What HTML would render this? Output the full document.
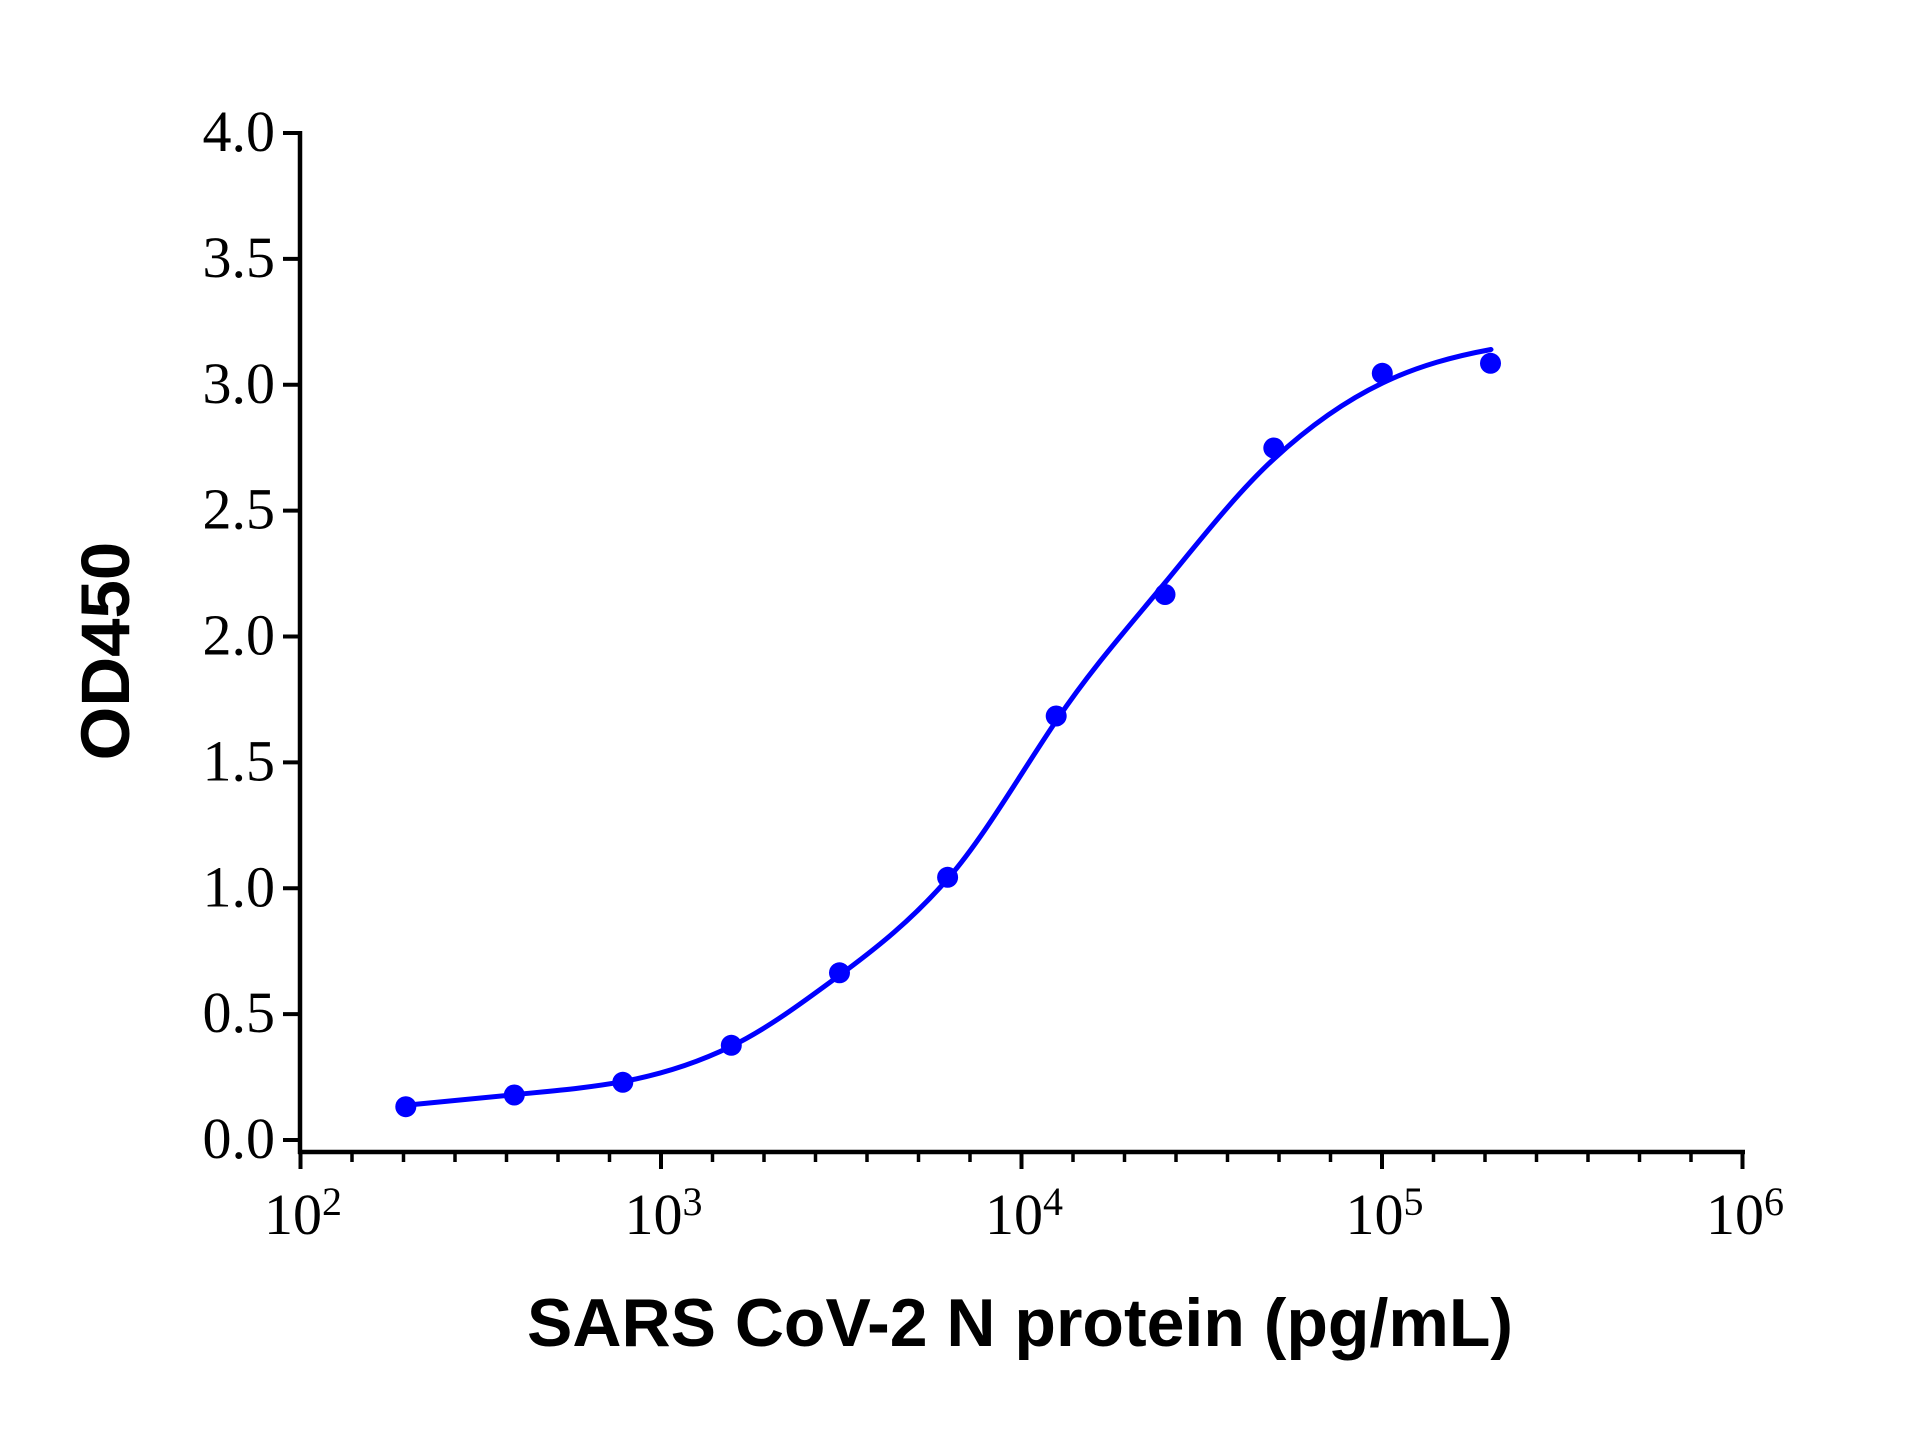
<!DOCTYPE html>
<html>
<head>
<meta charset="utf-8">
<style>
  html, body { margin: 0; padding: 0; background: #ffffff; }
  svg { display: block; }
</style>
</head>
<body>
<svg width="1920" height="1440" viewBox="0 0 1920 1440" xmlns="http://www.w3.org/2000/svg">
  <rect x="0" y="0" width="1920" height="1440" fill="#ffffff"/>

  <!-- Y axis -->
  <line x1="300" y1="131" x2="300" y2="1154" stroke="#000" stroke-width="4.5"/>
  <!-- Y ticks -->
  <g stroke="#000" stroke-width="4">
    <line x1="283" y1="1140" x2="300" y2="1140"/>
    <line x1="283" y1="1014.1" x2="300" y2="1014.1"/>
    <line x1="283" y1="888.3" x2="300" y2="888.3"/>
    <line x1="283" y1="762.4" x2="300" y2="762.4"/>
    <line x1="283" y1="636.5" x2="300" y2="636.5"/>
    <line x1="283" y1="510.6" x2="300" y2="510.6"/>
    <line x1="283" y1="384.8" x2="300" y2="384.8"/>
    <line x1="283" y1="258.9" x2="300" y2="258.9"/>
    <line x1="283" y1="133" x2="300" y2="133"/>
  </g>
  <!-- Y tick labels -->
  <g font-family="'Liberation Serif', 'Times New Roman', serif" font-size="58" fill="#000" text-anchor="end">
    <text x="275" y="1158">0.0</text>
    <text x="275" y="1032.1">0.5</text>
    <text x="275" y="906.3">1.0</text>
    <text x="275" y="780.4">1.5</text>
    <text x="275" y="654.5">2.0</text>
    <text x="275" y="528.6">2.5</text>
    <text x="275" y="402.8">3.0</text>
    <text x="275" y="276.9">3.5</text>
    <text x="275" y="151">4.0</text>
  </g>

  <!-- X axis -->
  <line x1="298" y1="1152" x2="1745" y2="1152" stroke="#000" stroke-width="4.5"/>
  <!-- major ticks -->
  <g stroke="#000" stroke-width="4">
    <line x1="300.5" y1="1152" x2="300.5" y2="1169"/>
    <line x1="661" y1="1152" x2="661" y2="1169"/>
    <line x1="1021.5" y1="1152" x2="1021.5" y2="1169"/>
    <line x1="1382" y1="1152" x2="1382" y2="1169"/>
    <line x1="1742.5" y1="1152" x2="1742.5" y2="1169"/>
  </g>
  <!-- minor ticks -->
  <g stroke="#000" stroke-width="3.5">
    <line x1="352" y1="1152" x2="352" y2="1162"/>
    <line x1="403.5" y1="1152" x2="403.5" y2="1162"/>
    <line x1="455" y1="1152" x2="455" y2="1162"/>
    <line x1="506.5" y1="1152" x2="506.5" y2="1162"/>
    <line x1="558" y1="1152" x2="558" y2="1162"/>
    <line x1="609.5" y1="1152" x2="609.5" y2="1162"/>

    <line x1="712.5" y1="1152" x2="712.5" y2="1162"/>
    <line x1="764" y1="1152" x2="764" y2="1162"/>
    <line x1="815.5" y1="1152" x2="815.5" y2="1162"/>
    <line x1="867" y1="1152" x2="867" y2="1162"/>
    <line x1="918.5" y1="1152" x2="918.5" y2="1162"/>
    <line x1="970" y1="1152" x2="970" y2="1162"/>

    <line x1="1073" y1="1152" x2="1073" y2="1162"/>
    <line x1="1124.5" y1="1152" x2="1124.5" y2="1162"/>
    <line x1="1176" y1="1152" x2="1176" y2="1162"/>
    <line x1="1227.5" y1="1152" x2="1227.5" y2="1162"/>
    <line x1="1279" y1="1152" x2="1279" y2="1162"/>
    <line x1="1330.5" y1="1152" x2="1330.5" y2="1162"/>

    <line x1="1433.5" y1="1152" x2="1433.5" y2="1162"/>
    <line x1="1485" y1="1152" x2="1485" y2="1162"/>
    <line x1="1536.5" y1="1152" x2="1536.5" y2="1162"/>
    <line x1="1588" y1="1152" x2="1588" y2="1162"/>
    <line x1="1639.5" y1="1152" x2="1639.5" y2="1162"/>
    <line x1="1691" y1="1152" x2="1691" y2="1162"/>
  </g>
  <!-- X tick labels -->
  <g font-family="'Liberation Serif', 'Times New Roman', serif" font-size="58" fill="#000" text-anchor="middle">
    <text x="303" y="1234">10<tspan font-size="40" dy="-19">2</tspan></text>
    <text x="663.5" y="1234">10<tspan font-size="40" dy="-19">3</tspan></text>
    <text x="1024" y="1234">10<tspan font-size="40" dy="-19">4</tspan></text>
    <text x="1384.5" y="1234">10<tspan font-size="40" dy="-19">5</tspan></text>
    <text x="1745" y="1234">10<tspan font-size="40" dy="-19">6</tspan></text>
  </g>

  <!-- Axis titles -->
  <text x="1020" y="1346" font-family="'Liberation Sans', Arial, sans-serif" font-weight="bold" font-size="68" fill="#000" text-anchor="middle">SARS CoV-2 N protein (pg/mL)</text>
  <text transform="translate(129,651) rotate(-90)" x="0" y="0" font-family="'Liberation Sans', Arial, sans-serif" font-weight="bold" font-size="69" fill="#000" text-anchor="middle">OD450</text>

  <!-- Fitted curve -->
  <path d="M405.8,1105.3
           C441.97,1101.97 478.13,1098.37 514.3,1094.7
           C550.47,1091.03 586.63,1088.27 622.8,1081.6
           C658.97,1074.93 695.13,1063.97 731.3,1046.3
           C767.47,1028.63 803.63,1001.77 839.8,975.1
           C875.97,948.43 912.13,919.87 948.3,878.2
           C984.47,836.53 1020.63,773.33 1056.8,720
           C1092.97,666.67 1129.13,626.4 1165.3,582.4
           C1201.47,538.4 1237.63,492.33 1273.8,459
           C1309.97,425.67 1346.33,400.33 1382.5,383
           C1418.67,365.67 1454.83,356.17 1491,349.5"
        fill="none" stroke="#0000ff" stroke-width="5" stroke-linecap="round" stroke-linejoin="round"/>

  <!-- Data points -->
  <g fill="#0000ff">
    <circle cx="405.8" cy="1106.7" r="10.5"/>
    <circle cx="514.3" cy="1095" r="10.5"/>
    <circle cx="622.8" cy="1082.3" r="10.5"/>
    <circle cx="731.3" cy="1045.3" r="10.5"/>
    <circle cx="839.5" cy="972.8" r="10.5"/>
    <circle cx="947.6" cy="877.3" r="10.5"/>
    <circle cx="1056.2" cy="716" r="10.5"/>
    <circle cx="1165" cy="594.5" r="10.5"/>
    <circle cx="1273.8" cy="448" r="10.5"/>
    <circle cx="1382.3" cy="373.3" r="10.5"/>
    <circle cx="1490.5" cy="363.3" r="10.5"/>
  </g>
</svg>
</body>
</html>
